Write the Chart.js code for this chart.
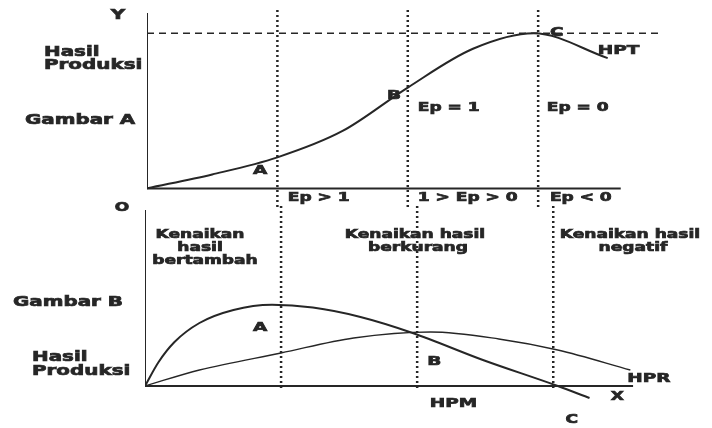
<!DOCTYPE html>
<html>
<head>
<meta charset="utf-8">
<script src="https://cdn.jsdelivr.net/npm/chart.js@4.4.1/dist/chart.umd.min.js"></script>
<style>
    html, body { margin: 0; padding: 0; background: #fff; }
    #wrap { position: relative; width: 712px; height: 428px; overflow: hidden; }
    #topChart { position: absolute; left: 0; top: 0; }
    #bottomChart { position: absolute; left: 0; top: 205px; }
</style>
</head>
<body>
<div id="wrap">
    <canvas id="topChart" width="712" height="215"></canvas>
    <canvas id="bottomChart" width="712" height="223"></canvas>
</div>
<script>
// stage boundaries (input level) and the HPT maximum
const stageBounds = [3, 6, 9];
const peakHPT = 100;

// Gambar A: total product (HPT)
const hptInput = [0, 1.5, 3.0, 4.5, 6.0, 7.5, 8.9, 10.6];
const hptOutput = [0, 9, 20, 37, 65, 90, 100, 84];

// Gambar B: marginal product (HPM) and average product (HPR)
const hpmInput = [0, 0.3, 0.65, 1.2, 1.95, 2.8, 3.7, 4.75, 5.9, 7.45, 9.1, 9.8];
const hpmOutput = [0, 12, 22, 31.5, 38, 40.6, 39.2, 34.5, 26.5, 13, 0, -6];
const hprInput = [0, 1.2, 3.0, 4.6, 6.3, 7.8, 9.1, 10.7];
const hprOutput = [0, 8, 16.5, 24, 27, 23.5, 18, 8];

const stageLabelsTop = ['Ep > 1', '1 > Ep > 0', 'Ep < 0'];
const stageLabelsBottom = [['Kenaikan', 'hasil', 'bertambah'], ['Kenaikan hasil', 'berkurang'], ['Kenaikan hasil', 'negatif']];

const INK = '#262626';
const FONT = '"DejaVu Sans", Verdana, sans-serif';
const SX = 1.42; // the scanned figure is stretched sideways

function toPoints(xs, ys) {
    return xs.map((x, i) => ({ x: x, y: ys[i] }));
}

function drawText(ctx, txt, x, y, size, align) {
    ctx.save();
    ctx.font = 'bold ' + size + 'px ' + FONT;
    ctx.fillStyle = INK;
    ctx.strokeStyle = INK;
    ctx.lineWidth = 0.7;
    ctx.textBaseline = 'middle';
    ctx.textAlign = align || 'left';
    ctx.translate(x, y);
    ctx.scale(SX, 1);
    ctx.fillText(txt, 0, 0);
    ctx.strokeText(txt, 0, 0);
    ctx.restore();
}

// fixed: captions in canvas pixels, onData: labels placed at data coordinates
function notesPlugin(fixed, onData) {
    return {
        id: 'notes',
        afterDraw(chart) {
            const ctx = chart.ctx;
            const sx = chart.scales.x, sy = chart.scales.y;
            fixed.forEach(n => drawText(ctx, n.t, n.px, n.py, n.size || 13, n.align));
            onData.forEach(n => drawText(ctx, n.t, sx.getPixelForValue(n.x), sy.getPixelForValue(n.y), n.size || 13, n.align));
        }
    };
}

function lineSet(data, width, dash, tension) {
    return {
        data: data,
        showLine: true,
        borderColor: INK,
        borderWidth: width,
        borderDash: dash || [],
        pointRadius: 0,
        tension: tension || 0,
        cubicInterpolationMode: tension ? 'monotone' : 'default',
        fill: false
    };
}

function baseOptions(xMax, yMin, yMax, padding) {
    return {
        responsive: false,
        animation: false,
        layout: { padding: padding },
        plugins: { legend: { display: false }, tooltip: { enabled: false } },
        scales: {
            x: { type: 'linear', display: false, min: 0, max: xMax },
            y: { type: 'linear', display: false, min: yMin, max: yMax }
        }
    };
}

// ---------- Gambar A ----------
const topSets = [
    lineSet(toPoints([0, 0], [0, 113]), 2),
    lineSet(toPoints([0, 10.9], [0, 0]), 2),
    lineSet(toPoints([0, 11.86], [peakHPT, peakHPT]), 1.5, [7, 5]),
    lineSet(toPoints(hptInput, hptOutput), 2, [], 0.4)
];
stageBounds.forEach(b => topSets.push(lineSet(toPoints([b, b], [-12, 115]), 2.5, [2, 3])));

new Chart(document.getElementById('topChart'), {
    type: 'scatter',
    data: { datasets: topSets },
    options: baseOptions(13, -12, 115, { left: 147, right: 0, top: 10, bottom: 8 }),
    plugins: [notesPlugin(
        [
            { t: 'Y', px: 118, py: 15, size: 14, align: 'center' },
            { t: 'Hasil', px: 44, py: 52, size: 14 },
            { t: 'Produksi', px: 44, py: 65, size: 14 },
            { t: 'Gambar A', px: 25, py: 120, size: 14 },
            { t: 'O', px: 122, py: 208, size: 12, align: 'center' }
        ],
        [
            { t: 'A', x: 2.44, y: 11.6 },
            { t: 'B', x: 5.52, y: 60 },
            { t: 'C', x: 9.27, y: 100.6 },
            { t: 'HPT', x: 10.37, y: 89 },
            { t: 'Ep = 1', x: 6.23, y: 51.6, size: 12 },
            { t: 'Ep = 0', x: 9.2, y: 51.6, size: 12 },
            { t: stageLabelsTop[0], x: 3.24, y: -6.2, size: 12 },
            { t: stageLabelsTop[1], x: 6.23, y: -5.8, size: 12 },
            { t: stageLabelsTop[2], x: 9.27, y: -5.8, size: 12 }
        ]
    )]
});

// ---------- Gambar B ----------
const bottomSets = [
    lineSet(toPoints([0, 0], [0, 88]), 2),
    lineSet(toPoints([0, 10.76], [0, 0]), 2),
    lineSet(toPoints(hpmInput, hpmOutput), 2, [], 0.4),
    lineSet(toPoints(hprInput, hprOutput), 1.3, [], 0.4)
];
stageBounds.forEach(b => bottomSets.push(lineSet(toPoints([b, b], [-1, 90.5]), 2.5, [2, 3])));

new Chart(document.getElementById('bottomChart'), {
    type: 'scatter',
    data: { datasets: bottomSets },
    options: baseOptions(12.5, -7, 90.5, { left: 145, right: 0, top: 0, bottom: 28 }),
    plugins: [notesPlugin(
        [
            { t: stageLabelsBottom[0][0], px: 200, py: 30, size: 12, align: 'center' },
            { t: stageLabelsBottom[0][1], px: 200, py: 43, size: 12, align: 'center' },
            { t: stageLabelsBottom[0][2], px: 205, py: 56, size: 12, align: 'center' },
            { t: stageLabelsBottom[1][0], px: 415, py: 30, size: 12, align: 'center' },
            { t: stageLabelsBottom[1][1], px: 418, py: 43, size: 12, align: 'center' },
            { t: stageLabelsBottom[2][0], px: 630, py: 30, size: 12, align: 'center' },
            { t: stageLabelsBottom[2][1], px: 633, py: 43, size: 12, align: 'center' },
            { t: 'Gambar B', px: 13, py: 97, size: 14 },
            { t: 'Hasil', px: 32, py: 152, size: 14 },
            { t: 'Produksi', px: 32, py: 166, size: 14 }
        ],
        [
            { t: 'A', x: 2.38, y: 29 },
            { t: 'B', x: 6.22, y: 12 },
            { t: 'HPR', x: 10.63, y: 3.5 },
            { t: 'X', x: 10.41, y: -5.5, size: 12, align: 'center' },
            { t: 'HPM', x: 6.28, y: -9 },
            { t: 'C', x: 9.41, y: -17, size: 12, align: 'center' }
        ]
    )]
});
</script>
</body>
</html>
